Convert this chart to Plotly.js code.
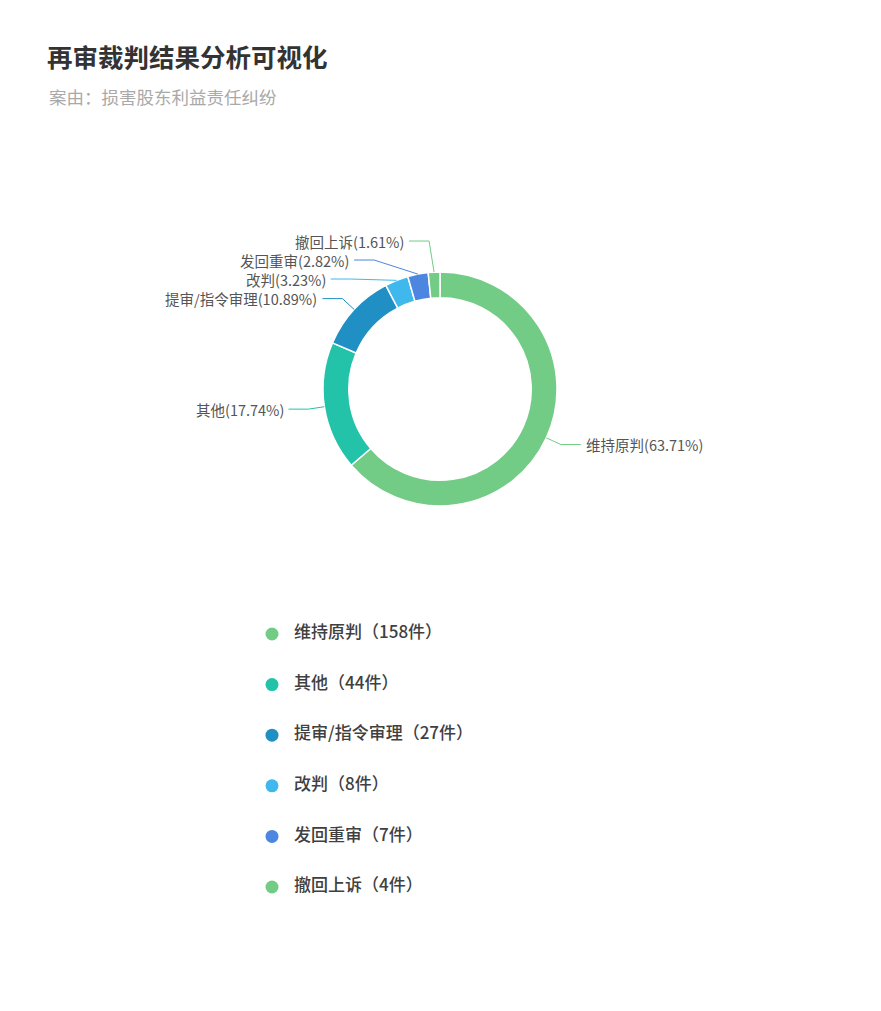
<!DOCTYPE html>
<html>
<head>
<meta charset="utf-8">
<script src="https://cdn.plot.ly/plotly-3.0.1.min.js"></script>
<style>
  html, body { margin: 0; padding: 0; background: #fff; }
  #chart { width: 881px; height: 1011px; }
</style>
</head>
<body>
<div id="chart"></div>
<script>
// ── data ─────────────────────────────────────────────
const categories = ['维持原判', '其他', '提审/指令审理', '改判', '发回重审', '撤回上诉'];
const counts = [158, 44, 27, 8, 7, 4];
const colors = ['#72cc86', '#22c3a8', '#208fc4', '#3fb8ee', '#4c86e0', '#72cc86'];

const titleText = '再审裁判结果分析可视化';
const subtitleText = '案由：损害股东利益责任纠纷';

// ── geometry (page pixels) ───────────────────────────
const W = 881, H = 1011;
const CX = 440, CY = 389, R = 117, HOLE = 0.78;
const LEN1 = 16, LEN2 = 20, GAP = 19;
const FONT = '"Noto Sans CJK SC", "Noto Sans", sans-serif';

const total = counts.reduce((a, b) => a + b, 0);
const pct = counts.map(c => (c / total * 100).toFixed(2) + '%');

// label anchors along each slice's mid-angle (clockwise from 12 o'clock)
let cum = 0;
const items = counts.map((c, i) => {
    const th = 2 * Math.PI * (cum + c / 2) / total;
    cum += c;
    const s = Math.sin(th), k = Math.cos(th);
    return {
        i, side: s >= 0 ? 1 : -1,
        ex: CX + R * s, ey: CY - R * k,
        bx: CX + (R + LEN1) * s, by: CY - (R + LEN1) * k,
        y0: CY - (R + LEN1) * k
    };
});

// spread overlapping labels on each side around their cluster centre
function spread(list) {
    list.sort((a, b) => a.y0 - b.y0);
    let clusters = list.map(it => ({ items: [it] }));
    const place = cl => {
        const m = cl.items.reduce((a, it) => a + it.y0, 0) / cl.items.length;
        cl.items.forEach((it, j) => { it.by = m + (j - (cl.items.length - 1) / 2) * GAP; });
    };
    clusters.forEach(place);
    let merged = true;
    while (merged) {
        merged = false;
        for (let j = 0; j < clusters.length - 1; j++) {
            const a = clusters[j], b = clusters[j + 1];
            if (b.items[0].by - a.items[a.items.length - 1].by < GAP) {
                const cl = { items: a.items.concat(b.items) };
                place(cl);
                clusters.splice(j, 2, cl);
                merged = true;
                break;
            }
        }
    }
    // shifted labels slide along an ellipse so their lines stay short
    const shifted = list.filter(it => Math.abs(it.by - it.y0) > 1);
    if (shifted.length) {
        const rB = Math.max(...list.map(it => Math.abs(it.by - CY))) + 0.5;
        const rA = R + LEN1;
        shifted.forEach(it => {
            const dy = Math.abs(it.by - CY);
            const dx = rA * Math.sqrt(Math.max(0, 1 - dy * dy / (rB * rB)));
            it.bx = CX + it.side * dx;
        });
    }
}
spread(items.filter(it => it.side > 0));
spread(items.filter(it => it.side < 0));

const shapes = items.map(it => ({
    type: 'path', xref: 'x', yref: 'y',
    path: `M ${it.ex},${it.ey} L ${it.bx},${it.by} L ${it.bx + it.side * LEN2},${it.by}`,
    line: { color: colors[it.i], width: 1 }
}));

const annotations = items.map(it => ({
    xref: 'x', yref: 'y',
    x: it.bx + it.side * (LEN2 + 4), y: it.by,
    xanchor: it.side > 0 ? 'left' : 'right', yanchor: 'middle',
    text: `${categories[it.i]}(${pct[it.i]})`,
    showarrow: false, borderpad: 0,
    font: { family: FONT, size: 14.5, color: '#555' }
}));

annotations.push({
    xref: 'paper', yref: 'paper', x: 47 / W, y: 1 - 97 / H,
    xanchor: 'left', yanchor: 'middle', showarrow: false,
    text: subtitleText,
    font: { family: FONT, size: 17.5, color: '#a9a9a9' }
});

// legend rows
const legendY = categories.map((_, i) => 634 + i * 50.6);

const traces = [
    {
        type: 'pie', labels: categories, values: counts,
        sort: false, direction: 'clockwise', rotation: 0, hole: HOLE,
        marker: { colors, line: { color: '#fff', width: 1.5 } },
        textinfo: 'none', hoverinfo: 'none',
        domain: { x: [(CX - R) / W, (CX + R) / W], y: [1 - (CY + R) / H, 1 - (CY - R) / H] }
    },
    {
        type: 'scatter', mode: 'markers',
        x: categories.map(() => 272), y: legendY,
        marker: { color: colors, size: 13 },
        hoverinfo: 'none'
    },
    {
        type: 'scatter', mode: 'text',
        x: categories.map(() => 294), y: legendY,
        text: categories.map((c, i) => `${c}（${counts[i]}件）`),
        textposition: 'middle right',
        textfont: { family: FONT, size: 17, color: '#404040', weight: 500 },
        hoverinfo: 'none'
    }
];

const layout = {
    width: W, height: H,
    margin: { l: 0, r: 0, t: 0, b: 0 },
    paper_bgcolor: '#fff', plot_bgcolor: '#fff',
    showlegend: false,
    title: {
        text: titleText, xref: 'paper', yref: 'paper',
        x: 47 / W, xanchor: 'left', y: 1 - 58 / H, yanchor: 'middle',
        font: { family: FONT, size: 25.5, color: '#333', weight: 700 }
    },
    xaxis: { range: [0, W], visible: false, fixedrange: true },
    yaxis: { range: [H, 0], visible: false, fixedrange: true },
    shapes, annotations
};

Plotly.newPlot('chart', traces, layout, { displayModeBar: false, staticPlot: true });
</script>
</body>
</html>
